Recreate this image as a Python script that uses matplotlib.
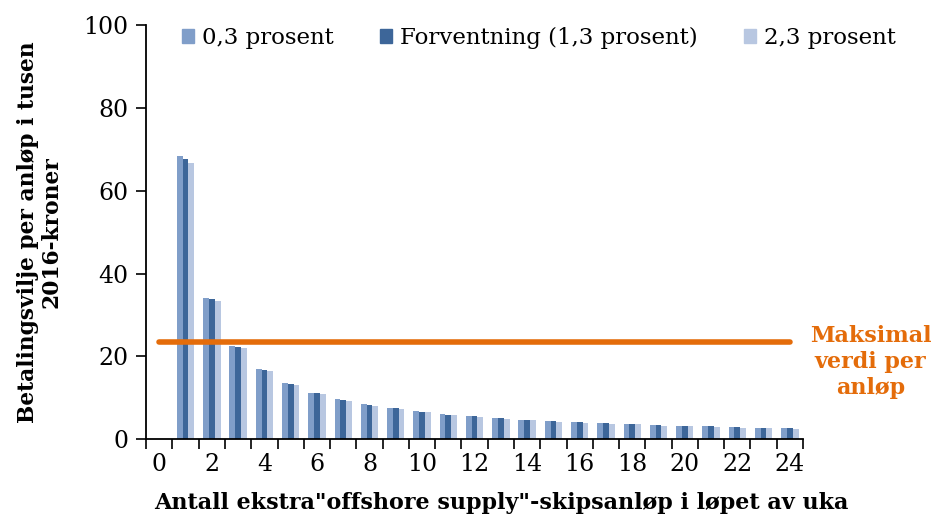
import matplotlib.pyplot as plt
import numpy as np
from matplotlib.patches import Patch

# Antall ekstra anlop (kategori 0 har ingen stolpe)
anlop = np.arange(1, 25)
tick_labels = [str(k) for k in range(0, 25, 2)]

lav_03 = [68.4, 34.1, 22.5, 16.9, 13.45, 11.1, 9.6, 8.4, 7.5, 6.7, 6.0, 5.55,
          5.1, 4.7, 4.35, 4.1, 3.85, 3.7, 3.45, 3.2, 3.15, 2.9, 2.8, 2.65]
forventning_13 = [67.7, 33.8, 22.3, 16.7, 13.4, 11.05, 9.5, 8.3, 7.45, 6.65, 5.95, 5.5,
                  5.05, 4.65, 4.3, 4.05, 3.8, 3.65, 3.4, 3.15, 3.1, 2.85, 2.75, 2.6]
hoy_23 = [66.7, 33.3, 21.9, 16.5, 13.2, 10.8, 9.3, 8.1, 7.3, 6.5, 5.85, 5.3,
          4.95, 4.55, 4.2, 3.95, 3.75, 3.55, 3.3, 3.1, 3.0, 2.8, 2.7, 2.55]
serie_navn = ["0,3 prosent", "Forventning (1,3 prosent)", "2,3 prosent"]

maks_verdi = 23.4
maks_x = [0, 24]

FONT = "DejaVu Serif"
ORANGE = "#E46C0A"
colors = ["#809EC9", "#3D6699", "#B8C7E1"]

plt.rcParams["font.family"] = FONT

fig = plt.figure(figsize=(9.31, 5.21), dpi=100)
ax = fig.add_axes([0.157, 0.157, 0.7055, 0.795])

w = 0.22
for i, (vals, c) in enumerate(zip([lav_03, forventning_13, hoy_23], colors)):
    ax.bar(anlop + (i - 1) * w, vals, width=w, color=c, zorder=2)

ax.plot(maks_x, [maks_verdi, maks_verdi], color=ORANGE, linewidth=4,
        solid_capstyle="round", zorder=3, clip_on=False)

ax.set_xlim(-0.5, 24.5)
ax.set_ylim(0, 100)
ax.set_yticks(np.arange(0, 101, 20))
ax.set_xticks(np.arange(-0.5, 25, 1))
ax.set_xticklabels([])
ax.set_xticks(np.arange(0, 25, 2), tick_labels, minor=True)
ax.tick_params(axis="x", which="minor", length=0, pad=10, labelsize=17)
ax.tick_params(axis="both", which="major", length=7, width=1.2, direction="out")
ax.tick_params(axis="y", labelsize=17, pad=6)

for s in ["top", "right"]:
    ax.spines[s].set_visible(False)
for s in ["left", "bottom"]:
    ax.spines[s].set_linewidth(1.3)

ax.set_xlabel('Antall ekstra"offshore supply"-skipsanløp i løpet av uka',
              fontsize=16, fontweight="bold")
ax.xaxis.set_label_coords(0.54, -0.128)
ax.set_ylabel("Betalingsvilje per anløp i tusen\n2016-kroner",
              fontsize=15.7, fontweight="bold", labelpad=15, linespacing=1.05)

handles = [Patch(color=c) for c in colors]
ax.legend(handles, serie_navn, loc="upper center", bbox_to_anchor=(0.598, 1.045),
          ncol=3, frameon=False, fontsize=16.5, handlelength=0.55, handleheight=0.6,
          handletextpad=0.35, columnspacing=2.0)

fig.text(0.935, 0.305, "Maksimal\nverdi per\nanløp", color=ORANGE, fontsize=16,
         fontweight="bold", ha="center", va="center", linespacing=1.25)

fig.savefig("out.png", dpi=100)
